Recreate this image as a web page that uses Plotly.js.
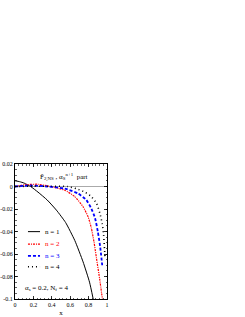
<!DOCTYPE html>
<html><head><meta charset="utf-8">
<script src="https://cdn.plot.ly/plotly-3.0.1.min.js"></script>
<style>html,body{margin:0;padding:0;background:#fff}#c{width:245px;height:317px}</style>
</head><body><div id="c"></div>
<script>
const x1 = [0,0.05,0.1,0.17,0.25,0.35,0.45,0.55,0.65,0.74,0.81,0.85];
const y1 = [0.0051,0.0043,0.003,0,-0.005,-0.012,-0.021,-0.032,-0.048,-0.067,-0.085,-0.1];
const x2 = [0,0.1,0.245,0.39,0.54,0.65,0.74,0.795,0.83,0.86,0.886,0.92,0.95];
const y2 = [0,0.0015,0.002,0,-0.0033,-0.009,-0.018,-0.027,-0.037,-0.05,-0.064,-0.082,-0.1];
const x3 = [0,0.17,0.355,0.54,0.685,0.775,0.83,0.87,0.9,0.925,0.948];
const y3 = [0,0.0009,0,-0.0018,-0.0062,-0.012,-0.0196,-0.028,-0.04,-0.053,-0.07];
const x4 = [0,0.2,0.4,0.575,0.667,0.76,0.83,0.887,0.923,0.948,0.963,0.978];
const y4 = [0,0.0003,0.0002,0,-0.002,-0.005,-0.009,-0.015,-0.024,-0.033,-0.043,-0.062];
const names = ['n = 1','n = 2','n = 3','n = 4'];
const colors = ['#000000','#ff0000','#0000ff','#000000'];
const xTicks = [0,0.2,0.4,0.6,0.8,1];
const xTickText = ['0','0.2','0.4','0.6','0.8','1'];
const yTicks = [0.02,0,-0.02,-0.04,-0.06,-0.08,-0.1];
const yTickText = ['0.02','0','-0.02','-0.04','-0.06','-0.08','-0.1'];

const styles = [
  {width:1, dash:'solid'},
  {width:1.2, dash:'2px,1px,1px,1px'},
  {width:1.8, dash:'3px,2px'},
  {width:1.6, dash:'1px,3px'}
];
const xs=[x1,x2,x3,x4], ys=[y1,y2,y3,y4];
const data = xs.map((x,i)=>({
  x:x, y:ys[i], type:'scatter', mode:'lines', showlegend:false,
  line:{shape:'spline', smoothing:0.5, color:colors[i], width:styles[i].width, dash:styles[i].dash},
  name:names[i]
}));
const ff = '"Liberation Serif", "DejaVu Serif", serif';
const font = {family:ff, size:7, color:'#000'};
const axisCommon = {showline:true, linecolor:'#000', linewidth:1, mirror:'ticks', ticks:'inside', ticklen:3, tickwidth:0.8, tickcolor:'#000', showgrid:false, tickfont:{family:ff,size:6,color:'#000'}};

// manual legend (layout decoration, paper coordinates)
const legY = [0.499, 0.407, 0.32, 0.239];
const shapes = names.map((n,i)=>({type:'line', xref:'paper', yref:'paper', x0:0.141, x1:0.272, y0:legY[i], y1:legY[i],
  line:{color:colors[i], width:styles[i].width, dash:styles[i].dash}}));
const annotations = names.map((n,i)=>({xref:'paper', yref:'paper', x:0.305, y:legY[i], xanchor:'left', yanchor:'middle', showarrow:false,
  text:n, font:{family:ff, size:7, color:colors[i]}}));
annotations.push(
  {xref:'paper', yref:'paper', x:0.25, y:0.905, xanchor:'left', yanchor:'middle', showarrow:false,
   text:'F\u0303<sub>2,NS</sub> , α<sub>S</sub><sup>n+1</sup>  part', font:{family:ff,size:7,color:'#000'}},
  {xref:'paper', yref:'paper', x:0.09, y:0.08, xanchor:'left', yanchor:'middle', showarrow:false,
   text:'α<sub>s</sub> = 0.2, N<sub>f</sub> = 4', font:{family:ff,size:7,color:'#000'}}
);
const layout = {
  width:245, height:317, paper_bgcolor:'#fff', plot_bgcolor:'#fff',
  margin:{l:15, r:138, t:164, b:18},
  font:font, showlegend:false,
  xaxis:Object.assign({}, axisCommon, {range:[0,1], tickvals:xTicks, ticktext:xTickText, zeroline:false,
    minor:{ticks:'inside', ticklen:1.5, tickwidth:0.6, tickcolor:'#000', dtick:0.04, tick0:0},
    title:{text:'x', font:{family:ff,size:7}, standoff:2}}),
  yaxis:Object.assign({}, axisCommon, {range:[-0.1,0.02], tickvals:yTicks, ticktext:yTickText, zeroline:true, zerolinecolor:'#aaaaaa', zerolinewidth:1,
    minor:{ticks:'inside', ticklen:1.5, tickwidth:0.6, tickcolor:'#000', dtick:0.005, tick0:0}}),
  shapes:shapes, annotations:annotations
};
Plotly.newPlot('c', data, layout, {displayModeBar:false, staticPlot:true});
</script></body></html>
